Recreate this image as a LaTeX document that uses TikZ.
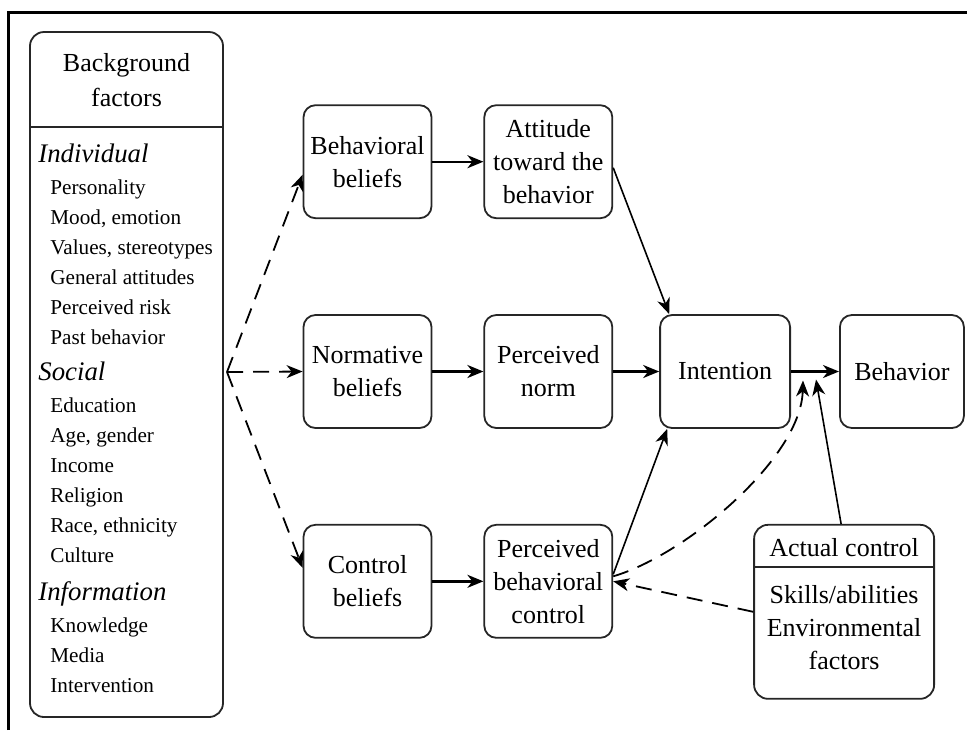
\documentclass[tikz,border=0pt]{standalone}
\usepackage{fontspec}
\setmainfont{Liberation Serif}
\usepackage{tikz}
\usetikzlibrary{arrows.meta,positioning}
\tikzstyle{factor} = [rectangle, rounded corners=6pt, draw=black!85, line width=0.9pt, align=center, inner sep=0pt, minimum width=64pt, minimum height=56.5pt, font=\fontsize{13}{16.5}\selectfont]
\tikzstyle{panel} = [rectangle, rounded corners=7pt, draw=black!85, line width=0.9pt, inner sep=0pt]
\tikzstyle{paneltext} = [inner sep=0pt, align=center, font=\fontsize{13}{16.5}\selectfont]
\tikzstyle{tedge}  = [draw, line width=1.2pt, -{Stealth[length=8pt,width=6.5pt,inset=2.5pt]}]
\tikzstyle{thinedge}  = [draw, line width=0.8pt, -{Stealth[length=8pt,width=6.5pt,inset=2.5pt]}]
\tikzstyle{dedge}  = [draw, line width=0.9pt, dash pattern=on 8pt off 5pt, -{Stealth[length=8pt,width=6.5pt,inset=2.5pt]}]
\newcommand{\grp}[1]{{\fontsize{13.4}{15}\selectfont\itshape #1}}
\newcommand{\itm}{\hspace*{6pt}}

\begin{document}
\begin{tikzpicture}
\useasboundingbox (0,0) rectangle (483.5pt,-365pt);

% frame
\draw[line width=1.5pt] (4pt,-365pt) |- (483.5pt,-6pt);

% background factors =============================
\node[panel, minimum width=96.5pt, minimum height=342.5pt] (bg) at (63.25pt,-187.25pt) {};
\node[paneltext, font=\fontsize{13}{17.5}\selectfont] (bghead) at (63.25pt,-40pt) {Background\\factors};
\coordinate (bgcut) at (0,-63.5pt);
\draw[line width=0.9pt, draw=black!85] (bg.west |- bgcut) -- (bg.east |- bgcut);
\node[anchor=north west, align=left, inner sep=0pt, font=\fontsize{10.6}{15}\selectfont] (bglist) at (19pt,-71.5pt) {%
\grp{Individual}\\[1pt]
\itm Personality\\
\itm Mood, emotion\\
\itm Values, stereotypes\\
\itm General attitudes\\
\itm Perceived risk\\
\itm Past behavior\\[3pt]
\grp{Social}\\[1pt]
\itm Education\\
\itm Age, gender\\
\itm Income\\
\itm Religion\\
\itm Race, ethnicity\\
\itm Culture\\[4pt]
\grp{Information}\\[1pt]
\itm Knowledge\\
\itm Media\\
\itm Intervention};

% beliefs
\node[factor] (normbel) at (183.75pt,-185.75pt) {Normative\\beliefs};
\node[factor, above=47.5pt of normbel] (behbel) {Behavioral\\beliefs};
\node[factor, below=47.5pt of normbel] (ctrlbel) {Control\\beliefs};

% perceptions
\node[factor, right=25.5pt of behbel] (attitude) {Attitude\\toward the\\behavior};
\node[factor, right=25.5pt of normbel] (norm) {Perceived\\norm};
\node[factor, right=25.5pt of ctrlbel] (pbc) {Perceived\\behavioral\\control};

% intention and behavior
\node[factor, minimum width=65pt, right=23pt of norm] (intention) {Intention};
\node[factor, minimum width=62pt, right=24pt of intention] (behavior) {Behavior};

% actual control
\node[panel, minimum width=90pt, minimum height=87pt, anchor=north west] (actual) at ([xshift=70pt]pbc.north east) {};
\coordinate (actcut) at ([yshift=-21.5pt]actual.north);
\draw[line width=0.9pt, draw=black!85] (actual.west |- actcut) -- (actual.east |- actcut);
\node[paneltext] (acthead) at ([yshift=-12pt]actual.north) {Actual control};
\node[paneltext] (actbody) at ([yshift=-52pt]actual.north) {Skills/abilities\\Environmental\\factors};

%edges
\coordinate (fan) at (113.5pt,-186pt);
\path[dedge] (fan) -- ([yshift=-6.5pt]behbel.west);
\path[dedge] (fan) -- (normbel.west);
\path[dedge] (fan) -- ([yshift=6.75pt]ctrlbel.west);

\path[tedge] (behbel) -- (attitude);
\path[tedge] (normbel) -- (norm);
\path[tedge] (ctrlbel) -- (pbc);
\path[tedge] (norm) -- (intention);
\path[tedge] (intention) -- (behavior);

\path[thinedge] ([yshift=-3pt]attitude.east) -- ([xshift=5pt]intention.north west);
\path[thinedge] ([yshift=3.5pt]pbc.east) -- ([xshift=4pt]intention.south west);

\coordinate (ctrlin) at ([xshift=6pt,yshift=-4.5pt]intention.east);
\coordinate (actin) at ([xshift=12.5pt,yshift=-4pt]intention.east);
\path[dedge] ([yshift=2.5pt]pbc.east) .. controls +(36pt,10.5pt) and +(-1pt,-39pt) .. (ctrlin);
\path[thinedge] ([xshift=-1.5pt]actual.north) -- (actin);
\path[dedge] (actual.west) -- (pbc.east);

\end{tikzpicture}
\end{document}
